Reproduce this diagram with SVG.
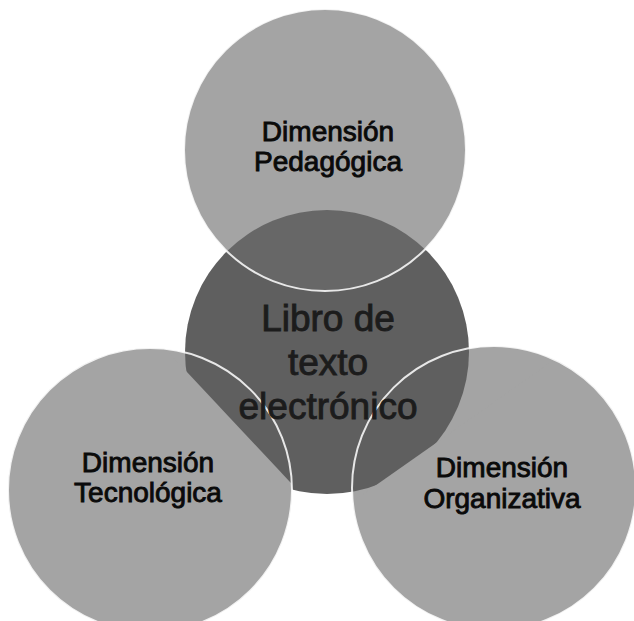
<svg xmlns="http://www.w3.org/2000/svg" width="634" height="621" viewBox="0 0 634 621">
  <style>
    .outer { fill: #a4a4a4; }
    .center { fill: #5f5f5f; }
    .edge { fill: none; stroke: #ffffff; stroke-width: 2; stroke-opacity: 0.85; }
    .lbl { font-family: "Liberation Sans", Arial, sans-serif; font-size: 28px; fill: #0a0a0a; stroke: #0a0a0a; stroke-width: 0.9; text-anchor: middle; }
    .main { font-family: "Liberation Sans", Arial, sans-serif; font-size: 37px; fill: #1c1c1c; stroke: #1c1c1c; stroke-width: 0.9; text-anchor: middle; }
  </style>
  <defs>
    <clipPath id="cL"><polygon points="-19,152 496,702 -19,702"/></clipPath>
    <clipPath id="cR"><polygon points="598,329 244,578 640,578 640,329"/></clipPath>
  </defs>
  <rect width="634" height="621" fill="#ffffff"/>

  <g id="node-pedagogica">
    <circle class="outer" cx="325" cy="150" r="141"/>
  </g>
  <g id="node-tecnologica">
    <circle class="outer" cx="150" cy="490" r="142"/>
  </g>
  <g id="node-organizativa">
    <circle class="outer" cx="494" cy="488" r="142"/>
  </g>
  <g id="node-libro">
    <circle class="center" cx="327" cy="352" r="142"/>
    <circle cx="325" cy="150" r="141" fill="#a4a4a4" fill-opacity="0.12"/>
    <circle class="outer" cx="150" cy="490" r="142" clip-path="url(#cL)"/>
    <circle class="outer" cx="494" cy="488" r="142" clip-path="url(#cR)"/>
  </g>
  <g id="connectors">
    <circle class="edge" cx="325" cy="150" r="141"/>
    <circle class="edge" cx="150" cy="490" r="142"/>
    <circle class="edge" cx="494" cy="488" r="142"/>
  </g>
  <g id="labels">
    <text class="lbl" x="328" y="141">Dimensión</text>
    <text class="lbl" x="328" y="171">Pedagógica</text>
    <text class="main" x="328" y="331">Libro de</text>
    <text class="main" x="328" y="375">texto</text>
    <text class="main" x="328" y="419">electrónico</text>
    <text class="lbl" x="148" y="472">Dimensión</text>
    <text class="lbl" x="148" y="502">Tecnológica</text>
    <text class="lbl" x="502" y="477">Dimensión</text>
    <text class="lbl" x="502" y="508">Organizativa</text>
  </g>
</svg>
